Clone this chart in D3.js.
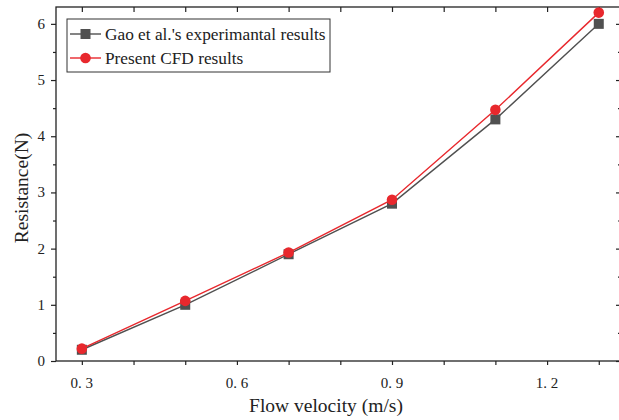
<!DOCTYPE html>
<html lang="en">
<head>
<meta charset="utf-8">
<title>Resistance vs flow velocity</title>
<script src="https://d3js.org/d3.v7.min.js"></script>
<style>
  body { margin: 0; background: #fff; }
  text { font-family: "Liberation Serif", "DejaVu Serif", serif; fill: #222; }
</style>
</head>
<body>
<script>
// data
var velocity = [0.3, 0.5, 0.7, 0.9, 1.1, 1.3];
var gaoExp = [0.2, 1.0, 1.9, 2.8, 4.3, 6.0];
var cfd = [0.22, 1.07, 1.93, 2.87, 4.47, 6.2];
var xTicks = [0.3, 0.6, 0.9, 1.2];
var yTicks = [0, 1, 2, 3, 4, 5, 6];
var seriesNames = ["Gao et al.'s experimantal results", "Present CFD results"];

var w = 619, h = 420;
var pL = 56, pT = 7, pR = 621, pB = 361;

var svg = d3.select("body").append("svg")
  .attr("width", w)
  .attr("height", h);

var x = d3.scaleLinear().domain([0.25, 1.343]).range([pL, pR]);
var y = d3.scaleLinear().domain([0, 6.3]).range([pB, pT]);

var minorX = d3.range(3, 14).map(function(d) { return d / 10; });
var minorY = d3.range(0, 13).map(function(d) { return d / 2; });

// frame
svg.append("rect")
  .attr("x", pL).attr("y", pT)
  .attr("width", pR - pL).attr("height", pB - pT)
  .attr("fill", "none").attr("stroke", "#222").attr("stroke-width", 1.3);

// bottom axis
var bx = svg.append("g").attr("transform", "translate(0," + pB + ")");
bx.call(d3.axisBottom(x).tickValues(minorX).tickSize(4).tickFormat(""));
bx.selectAll("text.lab").data(xTicks).join("text")
  .attr("class", "lab")
  .attr("x", function(d) { return x(d); })
  .attr("y", 27)
  .attr("text-anchor", "middle")
  .attr("font-size", 15)
  .text(function(d) { return d3.format(".1f")(d).replace(".", ". "); });

// top ticks (inward)
svg.append("g").attr("transform", "translate(0," + pT + ")")
  .call(d3.axisBottom(x).tickValues(minorX).tickSize(5).tickFormat(""));

// left axis
var ly = svg.append("g").attr("transform", "translate(" + pL + ",0)");
ly.call(d3.axisLeft(y).tickValues(minorY).tickSize(3).tickFormat(""));
ly.selectAll(".tick").filter(function(d) { return d % 1 === 0; })
  .select("line").attr("x2", -5);
ly.selectAll("text.lab").data(yTicks).join("text")
  .attr("class", "lab")
  .attr("x", -11)
  .attr("y", function(d) { return y(d) + 5; })
  .attr("text-anchor", "end")
  .attr("font-size", 15)
  .text(function(d) { return d; });

// right ticks (inward)
svg.append("g").attr("transform", "translate(" + pR + ",0)")
  .call(d3.axisRight(y).tickValues(minorY).tickSize(0).tickFormat(""))
  .selectAll(".tick line").attr("x2", function(d) { return d % 1 === 0 ? -5 : -3; });

svg.selectAll(".domain").remove();
svg.selectAll(".tick line").attr("stroke", "#222").attr("stroke-width", 1.2);

// axis titles
svg.append("text")
  .attr("x", 326)
  .attr("y", 412)
  .attr("text-anchor", "middle")
  .attr("font-size", 19.5)
  .text("Flow velocity (m/s)");

svg.append("text")
  .attr("transform", "translate(28," + ((pT + pB) / 2 + 4) + ") rotate(-90)")
  .attr("text-anchor", "middle")
  .attr("font-size", 19.5)
  .text("Resistance(N)");

// series
var line = d3.line()
  .x(function(d) { return x(d[0]); })
  .y(function(d) { return y(d[1]); });

var gaoPts = d3.zip(velocity, gaoExp);
var cfdPts = d3.zip(velocity, cfd);

var gray = "#505050", red = "#e8282d";

svg.append("path").datum(gaoPts)
  .attr("d", line).attr("fill", "none").attr("stroke", gray).attr("stroke-width", 1.4);
svg.selectAll("rect.gao").data(gaoPts).join("rect")
  .attr("class", "gao")
  .attr("x", function(d) { return x(d[0]) - 5; })
  .attr("y", function(d) { return y(d[1]) - 5; })
  .attr("width", 10).attr("height", 10)
  .attr("fill", gray);

svg.append("path").datum(cfdPts)
  .attr("d", line).attr("fill", "none").attr("stroke", red).attr("stroke-width", 1.4);
svg.selectAll("circle.cfd").data(cfdPts).join("circle")
  .attr("class", "cfd")
  .attr("cx", function(d) { return x(d[0]); })
  .attr("cy", function(d) { return y(d[1]); })
  .attr("r", 5.3)
  .attr("fill", red);

// legend
var lg = svg.append("g").attr("transform", "translate(67,19)");
lg.append("rect")
  .attr("width", 263).attr("height", 53)
  .attr("fill", "#fff").attr("stroke", "#333").attr("stroke-width", 1);
lg.append("line").attr("x1", 3).attr("x2", 34).attr("y1", 15).attr("y2", 15)
  .attr("stroke", gray).attr("stroke-width", 1.4);
lg.append("rect").attr("x", 13.5).attr("y", 10).attr("width", 10).attr("height", 10).attr("fill", gray);
lg.append("line").attr("x1", 3).attr("x2", 34).attr("y1", 39).attr("y2", 39)
  .attr("stroke", red).attr("stroke-width", 1.4);
lg.append("circle").attr("cx", 18.5).attr("cy", 39).attr("r", 5.3).attr("fill", red);
lg.selectAll("text").data(seriesNames).join("text")
  .attr("x", 38)
  .attr("y", function(d, i) { return 21 + i * 24; })
  .attr("font-size", 17.3)
  .text(function(d) { return d; });
</script>
</body>
</html>
